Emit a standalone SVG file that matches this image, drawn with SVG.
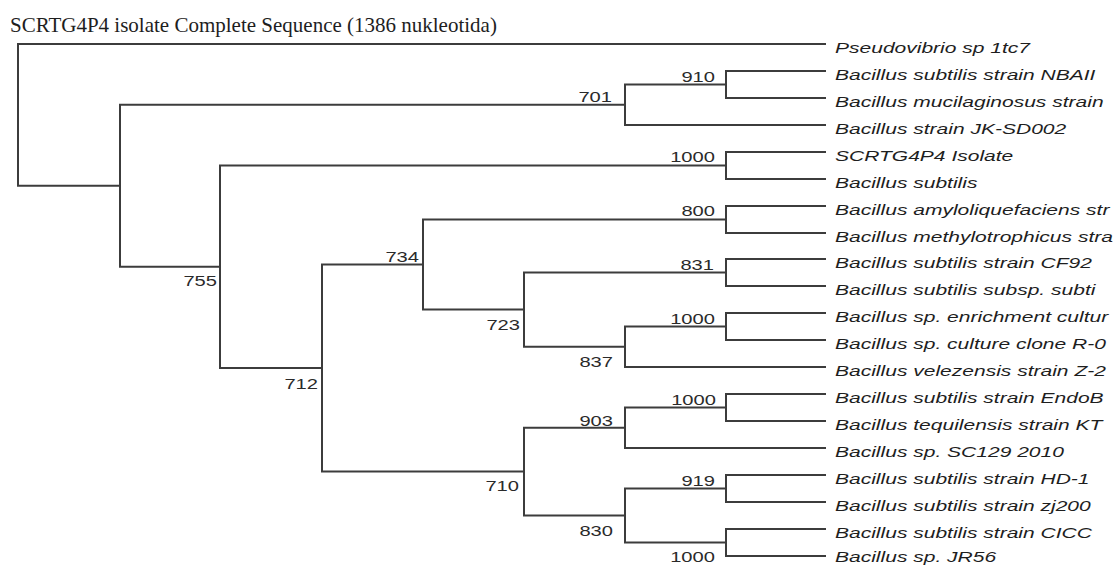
<svg xmlns="http://www.w3.org/2000/svg" width="1119" height="565" viewBox="0 0 1119 565">
<style>
.br{fill:none;stroke:#3c3c3c;stroke-width:2;stroke-linejoin:miter;stroke-linecap:square}
.leaf{font-family:"Liberation Sans",Arial,sans-serif;font-style:italic;font-size:14.5px;fill:#1e1e1e}
.bs{font-family:"Liberation Sans",Arial,sans-serif;font-size:14px;fill:#2a2a2a;text-anchor:end}
.title{font-family:"Liberation Serif","Times New Roman",serif;font-size:21px;fill:#1e1e1e}
</style>
<rect width="1119" height="565" fill="#ffffff"/>
<text class="title" x="10" y="32">SCRTG4P4 isolate Complete Sequence (1386 nukleotida)</text>
<g id="connectors">
<path class="br" d="M825 44 H18 V185.8 H120"/>
<path class="br" d="M625 104.75 H120 V266.8 H220"/>
<path class="br" d="M726 84.5 H625 V125 H825"/>
<path class="br" d="M825 71 H726 V98 H825"/>
<path class="br" d="M726 165.5 H220 V368.1 H322"/>
<path class="br" d="M825 152 H726 V179 H825"/>
<path class="br" d="M423 264.6 H322 V471.6 H524"/>
<path class="br" d="M726 219.5 H423 V309.6 H524"/>
<path class="br" d="M825 206 H726 V233 H825"/>
<path class="br" d="M726 272.5 H524 V346.75 H625"/>
<path class="br" d="M825 259 H726 V286 H825"/>
<path class="br" d="M726 326.5 H625 V367 H825"/>
<path class="br" d="M825 313 H726 V340 H825"/>
<path class="br" d="M625 427.75 H524 V515.5 H625"/>
<path class="br" d="M726 407.5 H625 V448 H825"/>
<path class="br" d="M825 394 H726 V421 H825"/>
<path class="br" d="M726 488.5 H625 V542.5 H726"/>
<path class="br" d="M825 475 H726 V502 H825"/>
<path class="br" d="M825 529 H726 V556 H825"/>
</g>
<g id="leaf1" transform="translate(835,52.5) scale(1.45,1)"><text class="leaf">Pseudovibrio sp 1tc7</text></g>
<g id="leaf2" transform="translate(835,79.5) scale(1.45,1)"><text class="leaf">Bacillus subtilis strain NBAII</text></g>
<g id="leaf3" transform="translate(835,106.5) scale(1.45,1)"><text class="leaf">Bacillus mucilaginosus strain</text></g>
<g id="leaf4" transform="translate(835,133.5) scale(1.45,1)"><text class="leaf">Bacillus strain JK-SD002</text></g>
<g id="leaf5" transform="translate(835,160.5) scale(1.45,1)"><text class="leaf">SCRTG4P4 Isolate</text></g>
<g id="leaf6" transform="translate(835,187.5) scale(1.45,1)"><text class="leaf">Bacillus subtilis</text></g>
<g id="leaf7" transform="translate(835,214.5) scale(1.45,1)"><text class="leaf">Bacillus amyloliquefaciens str</text></g>
<g id="leaf8" transform="translate(835,241.5) scale(1.45,1)"><text class="leaf">Bacillus methylotrophicus stra</text></g>
<g id="leaf9" transform="translate(835,267.5) scale(1.45,1)"><text class="leaf">Bacillus subtilis strain CF92</text></g>
<g id="leaf10" transform="translate(835,294.5) scale(1.45,1)"><text class="leaf">Bacillus subtilis subsp. subti</text></g>
<g id="leaf11" transform="translate(835,321.5) scale(1.45,1)"><text class="leaf">Bacillus sp. enrichment cultur</text></g>
<g id="leaf12" transform="translate(835,348.5) scale(1.45,1)"><text class="leaf">Bacillus sp. culture clone R-0</text></g>
<g id="leaf13" transform="translate(835,375.5) scale(1.45,1)"><text class="leaf">Bacillus velezensis strain Z-2</text></g>
<g id="leaf14" transform="translate(835,402.5) scale(1.45,1)"><text class="leaf">Bacillus subtilis strain EndoB</text></g>
<g id="leaf15" transform="translate(835,429.5) scale(1.45,1)"><text class="leaf">Bacillus tequilensis strain KT</text></g>
<g id="leaf16" transform="translate(835,456.5) scale(1.45,1)"><text class="leaf">Bacillus sp. SC129 2010</text></g>
<g id="leaf17" transform="translate(835,483.5) scale(1.45,1)"><text class="leaf">Bacillus subtilis strain HD-1</text></g>
<g id="leaf18" transform="translate(835,510.5) scale(1.45,1)"><text class="leaf">Bacillus subtilis strain zj200</text></g>
<g id="leaf19" transform="translate(835,537.5) scale(1.45,1)"><text class="leaf">Bacillus subtilis strain CICC</text></g>
<g id="leaf20" transform="translate(835,561.5) scale(1.45,1)"><text class="leaf">Bacillus sp. JR56</text></g>
<g id="n910" transform="translate(715,82) scale(1.44,1)"><text class="bs">910</text></g>
<g id="n701" transform="translate(612,102) scale(1.44,1)"><text class="bs">701</text></g>
<g id="n1000a" transform="translate(715,162) scale(1.44,1)"><text class="bs">1000</text></g>
<g id="n755" transform="translate(217,286) scale(1.44,1)"><text class="bs">755</text></g>
<g id="n800" transform="translate(715,216) scale(1.44,1)"><text class="bs">800</text></g>
<g id="n734" transform="translate(419,262) scale(1.44,1)"><text class="bs">734</text></g>
<g id="n831" transform="translate(714,270) scale(1.44,1)"><text class="bs">831</text></g>
<g id="n723" transform="translate(520,330) scale(1.44,1)"><text class="bs">723</text></g>
<g id="n1000b" transform="translate(715,324) scale(1.44,1)"><text class="bs">1000</text></g>
<g id="n837" transform="translate(613,367) scale(1.44,1)"><text class="bs">837</text></g>
<g id="n712" transform="translate(318,389) scale(1.44,1)"><text class="bs">712</text></g>
<g id="n1000c" transform="translate(716,405) scale(1.44,1)"><text class="bs">1000</text></g>
<g id="n903" transform="translate(613,425.5) scale(1.44,1)"><text class="bs">903</text></g>
<g id="n710" transform="translate(519,491) scale(1.44,1)"><text class="bs">710</text></g>
<g id="n919" transform="translate(715,486) scale(1.44,1)"><text class="bs">919</text></g>
<g id="n830" transform="translate(613,536) scale(1.44,1)"><text class="bs">830</text></g>
<g id="n1000d" transform="translate(715,562) scale(1.44,1)"><text class="bs">1000</text></g>
</svg>
